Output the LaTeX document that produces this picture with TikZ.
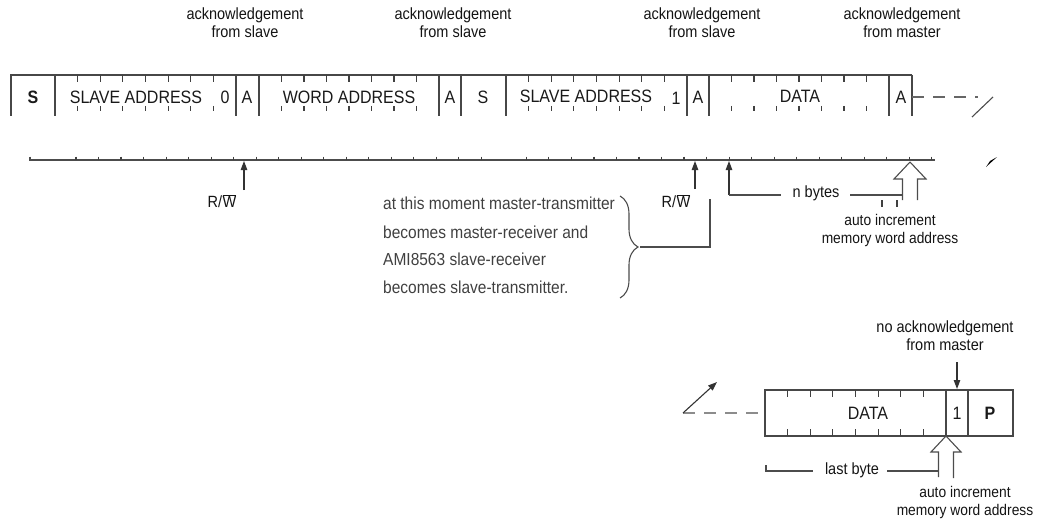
\documentclass[tikz,border=0pt]{standalone}
\usepackage{fontspec}
\setmainfont{Liberation Sans}
\usetikzlibrary{decorations.pathreplacing,arrows.meta}
\newcommand{\rwlabel}{R/\kern0.5pt\ensuremath{\overline{\hbox{W}}}}
\newcommand{\vst}[1]{\scalebox{1}[1.12]{#1}}
\newcommand{\tlab}[1]{\scalebox{1}[1.12]{\begin{tabular}{@{}c@{}}#1\end{tabular}}}
\begin{document}
\begin{tikzpicture}[x=1pt,y=-1pt,
 frame/.style={draw=black!72, line width=1.4pt},
 tickl/.style={draw=black!75, line width=1.1pt},
 lbl/.style={font=\fontsize{14.5}{15.5}\selectfont, text=black!92, inner sep=0pt},
 slbl/.style={font=\fontsize{13.8}{15.5}\selectfont, text=black!92, inner sep=0pt},
 cell/.style={font=\fontsize{16}{17}\selectfont, text=black!90, inner sep=0pt},
 body/.style={font=\fontsize{15.5}{16}\selectfont, text=black!75, inner sep=0pt, anchor=west},
 arr/.style={draw=black!80, line width=1.1pt, -{Triangle[length=9pt,width=6.5pt]}},
 hollow/.style={draw=black!70, line width=1.1pt, fill=white},
 conn/.style={draw=black!70, line width=1.1pt},
]
\useasboundingbox (0,0) rectangle (1037,527);

% ---------- top labels ----------
\node[lbl] (ack1) at (245,25) {\tlab{acknowledgement\\from slave}};
\node[lbl] (ack2) at (453,25) {\tlab{acknowledgement\\from slave}};
\node[lbl] (ack3) at (702,25) {\tlab{acknowledgement\\from slave}};
\node[lbl] (ack4) at (902,25) {\tlab{acknowledgement\\from master}};

% ---------- top frame ----------
\draw[frame] (10,75) -- (912,75);
\draw[frame, line width=2.6pt] (11,75) -- (11,116);
\foreach \x in {55,236,259,439,461,506,687,709,889,912}
  \draw[frame] (\x,75) -- (\x,116);
\foreach \a/\w in {55/22.625,259/22.5,506/22.625,709/22.5}
  \foreach \k in {1,...,7}{
    \draw[tickl] ({\a+\k*\w},75) -- ({\a+\k*\w},82);
    \draw[tickl] ({\a+\k*\w},106) -- ({\a+\k*\w},111);
  }
\node[cell, font=\fontsize{16}{17}\selectfont\bfseries] (s1) at (33,97) {\vst{S}};
\node[cell] (sa1) at (136,97) {\vst{SLAVE ADDRESS}};
\node[cell] (b0) at (225,97) {\vst{0}};
\node[cell] (a1) at (247,97) {\vst{A}};
\node[cell] (wa) at (349,97) {\vst{WORD ADDRESS}};
\node[cell] (a2) at (450,97) {\vst{A}};
\node[cell] (s2) at (483,97) {\vst{S}};
\node[cell] (sa2) at (586,96) {\vst{SLAVE ADDRESS}};
\node[cell] (b1) at (676,98) {\vst{1}};
\node[cell] (a3) at (698,97) {\vst{A}};
\node[cell] (d1) at (800,96) {\vst{DATA}};
\node[cell] (a4) at (901,97) {\vst{A}};

% continuation at end of top row
\coordinate (c1) at (912,97);
\coordinate (c2) at (978,97);
\coordinate (c3) at (993,97);
\coordinate (c4) at (972,117);
\draw[conn, draw=black!60, dash pattern=on 12pt off 9pt] (c1) -- (c2);
\draw[conn] (c3) -- (c4);
\fill[black] (997,157) -- (986,167) -- (990,161) -- cycle;

% ---------- time line ----------
\draw[conn, line width=1.5pt] (30,156.5) -- (30,160) -- (935,160);
\foreach \k in {0,...,38}{
  \ifnum\k=19\relax\else
    \draw[tickl] ({76+\k*22.52},156.5) -- ({76+\k*22.52},160);
  \fi
}

% R/W arrows
\coordinate (t1) at (244,161);
\coordinate (t1b) at (244,190);
\draw[arr] (t1b) -- (t1);
\node[lbl] (rw1) at (222,201) {\vst{\rwlabel}};

\coordinate (t2) at (695,161);
\coordinate (t2b) at (695,189);
\draw[arr] (t2b) -- (t2);
\node[lbl] (rw2) at (676,201) {\vst{\rwlabel}};

% n bytes
\coordinate (t3) at (729,161);
\coordinate (t3b) at (729,195);
\coordinate (nbl) at (781,195);
\coordinate (nbr) at (850,195);
\coordinate (nbe) at (902,195);
\draw[arr] (t3b) -- (t3);
\node[lbl] (nb) at (816,193) {\vst{n bytes}};
\draw[conn] (t3b) -- (nbl);
\draw[conn] (nbr) -- (nbe);

% hollow arrow 1
\draw[hollow] (910,162) -- (926,179) -- (917.5,179) -- (917.5,200)
   (902.5,200) -- (902.5,179) -- (894,179) -- (910,162);
\draw[tickl] (882,200) -- (882,207);
\draw[tickl] (897,200) -- (897,207);
\node[slbl] (aut1) at (890,231) {\tlab{auto increment\\memory word address}};

% explanation text with brace
\node[body] (e1) at (383,203) {\vst{at this moment master-transmitter}};
\node[body] (e2) at (383,232) {\vst{becomes master-receiver and}};
\node[body] (e3) at (383,259) {\vst{AMI8563 slave-receiver}};
\node[body] (e4) at (383,287) {\vst{becomes slave-transmitter.}};
\coordinate (br1) at (620,196);
\coordinate (br2) at (620,298);
\draw[conn, decorate, decoration={brace, amplitude=18pt}] (br1) -- (br2);
\coordinate (brt) at (640,247);
\coordinate (rwc) at (710,199);
\draw[conn] (brt) -- (710,247) -- (rwc);

% ---------- bottom frame ----------
\draw[frame] (765,390) rectangle (1013,436);
\draw[frame] (946,390) -- (946,436);
\draw[frame] (968,390) -- (968,436);
\foreach \k in {1,...,7}{
  \draw[tickl] ({765+\k*22.63},390) -- ({765+\k*22.63},397);
  \draw[tickl] ({765+\k*22.63},429) -- ({765+\k*22.63},436);
}
\node[cell] (d2) at (868,413) {\vst{DATA}};
\node[cell] (b2) at (957,413) {\vst{1}};
\node[cell, font=\fontsize{16}{17}\selectfont\bfseries] (p) at (990,413) {\vst{P}};

% continuation at start of bottom row
\coordinate (e0) at (683,413);
\coordinate (e1c) at (765,413);
\coordinate (e2c) at (717,382);
\draw[conn, draw=black!45, dash pattern=on 12pt off 9pt] (e0) -- (e1c);
\draw[arr] (e0) -- (e2c);

% no acknowledgement
\node[lbl] (nack) at (945,338) {\tlab{no acknowledgement\\from master}};
\coordinate (na1) at (957,362);
\coordinate (na2) at (957,389);
\draw[arr] (na1) -- (na2);

% last byte
\node[lbl] (lb) at (852,470) {\vst{last byte}};
\coordinate (lb0) at (766,465);
\coordinate (lb1) at (813,471);
\coordinate (lb2) at (887,471);
\coordinate (lb3) at (938,471);
\draw[conn] (lb0) -- (766,471) -- (lb1);
\draw[conn] (lb2) -- (lb3);

% hollow arrow 2
\draw[hollow] (946,436) -- (961,452) -- (953.5,452) -- (953.5,478)
   (938.5,477) -- (938.5,452) -- (931,452) -- (946,436);
\node[slbl] (aut2) at (965,503) {\tlab{auto increment\\memory word address}};

\end{tikzpicture}
\end{document}
